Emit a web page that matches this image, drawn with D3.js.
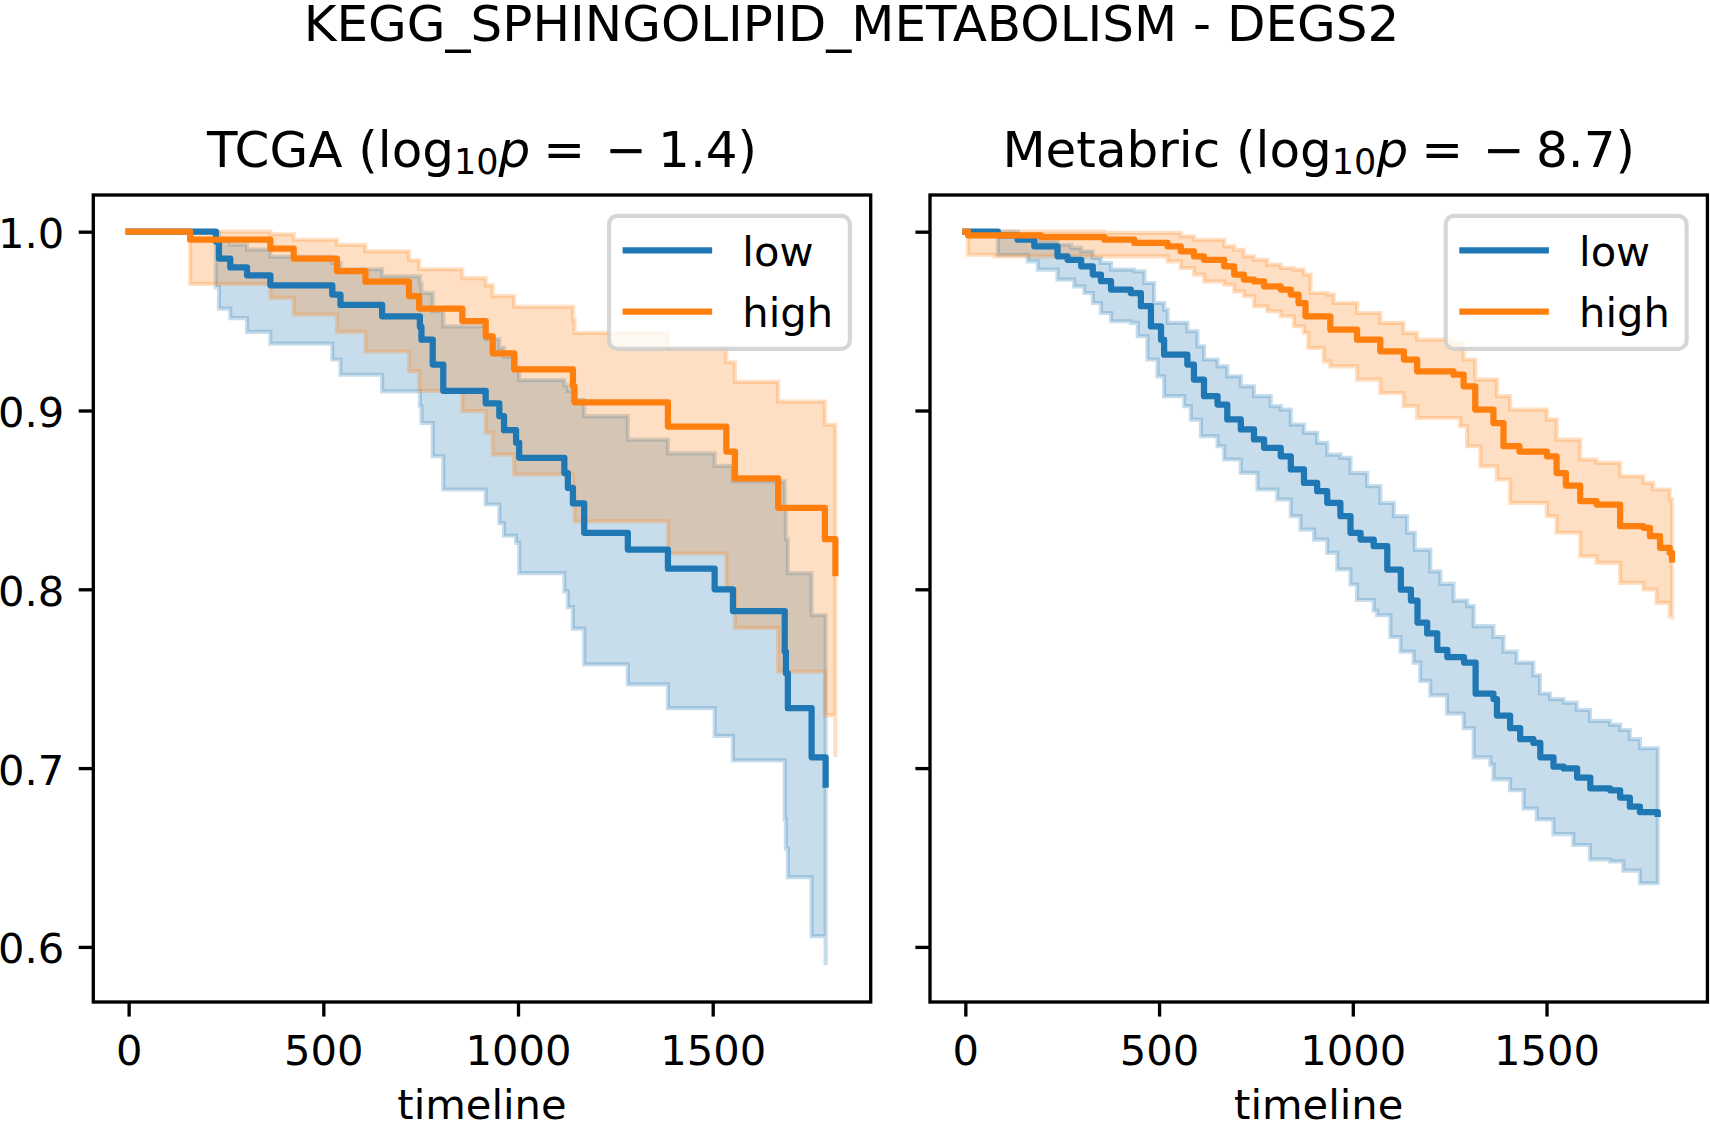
<!DOCTYPE html>
<html>
<head>
<meta charset="utf-8">
<script src="https://cdn.jsdelivr.net/npm/d3@7"></script>
<style>
  body { margin: 0; background: #fff; }
  svg text { font-family: "DejaVu Sans", sans-serif; fill: #000; }
</style>
</head>
<body>
<svg></svg>
<script>
// размеры картинки
const width = 1710;
const height = 1121;

// группы и оси
const groups = ["low", "high"];
const groupColors = ["#1f77b4", "#ff7f0e"];
const xTicks = [0, 500, 1000, 1500];
const yTicks = [0.6, 0.7, 0.8, 0.9, 1.0];
const panelNames = ["TCGA", "Metabric"];
const panelLogP = ["1.4", "8.7"];

// TCGA, группа low: [время, значение]
const tcgaLowSurv = [[0,1],[224,0.9945],[232,0.985],[261,0.980],[304,0.9756],[364,0.970],[523,0.9648],[544,0.959],[651,0.9527],[748,0.9467],[752,0.9396],[781,0.9257],[808,0.911],[917,0.904],[952,0.8968],[964,0.889],[995,0.882],[1003,0.8735],[1119,0.865],[1128,0.8567],[1141,0.848],[1170,0.8316],[1282,0.8222],[1385,0.8115],[1505,0.800],[1552,0.7878],[1685,0.765],[1688,0.753],[1693,0.7335],[1754,0.706],[1790,0.6907]];
const tcgaLowLower = [[0,1],[224,0.969],[232,0.957],[261,0.9517],[304,0.944],[364,0.9374],[523,0.9285],[544,0.920],[651,0.9107],[748,0.9024],[752,0.893],[781,0.8744],[808,0.8558],[917,0.8474],[952,0.837],[964,0.830],[995,0.826],[1003,0.809],[1119,0.7988],[1128,0.790],[1141,0.778],[1170,0.758],[1282,0.7468],[1385,0.7335],[1505,0.718],[1552,0.7043],[1685,0.6713],[1688,0.655],[1693,0.639],[1754,0.606],[1790,0.5897]];
const tcgaLowUpper = [[0,1],[224,0.9995],[232,0.995],[261,0.9927],[304,0.990],[364,0.986],[523,0.9825],[544,0.979],[651,0.975],[748,0.971],[752,0.9657],[781,0.9555],[808,0.947],[917,0.940],[952,0.935],[964,0.930],[995,0.924],[1003,0.917],[1119,0.914],[1128,0.911],[1141,0.906],[1170,0.8968],[1282,0.8837],[1385,0.876],[1505,0.869],[1552,0.8604],[1685,0.845],[1688,0.828],[1693,0.809],[1754,0.7855],[1790,0.77]];

// TCGA, группа high
const tcgaHighSurv = [[0,1],[158,0.9955],[364,0.9905],[424,0.985],[535,0.978],[608,0.972],[720,0.964],[746,0.957],[857,0.950],[917,0.9415],[935,0.932],[990,0.923],[1141,0.9135],[1145,0.9046],[1385,0.891],[1535,0.877],[1557,0.862],[1668,0.8456],[1788,0.828],[1815,0.809]];
const tcgaHighLower = [[0,1],[158,0.9708],[364,0.963],[424,0.9536],[535,0.944],[608,0.933],[720,0.922],[746,0.911],[857,0.8996],[917,0.8875],[935,0.8753],[990,0.8642],[1141,0.851],[1145,0.838],[1385,0.820],[1535,0.800],[1557,0.7784],[1668,0.754],[1788,0.7295],[1815,0.706]];
const tcgaHighUpper = [[0,1],[158,1.0],[364,0.9985],[424,0.9955],[535,0.9927],[608,0.989],[720,0.984],[746,0.979],[857,0.974],[917,0.970],[935,0.964],[990,0.958],[1141,0.951],[1145,0.9434],[1385,0.935],[1535,0.927],[1557,0.916],[1668,0.905],[1788,0.892],[1815,0.88]];

// Metabric, группа low
const metabricLowSurv = [[0,1],[84,0.998],[135,0.9955],[178,0.9918],[238,0.9862],[264,0.9843],[299,0.9806],[329,0.976],[350,0.9723],[376,0.9676],[427,0.9657],[453,0.9583],[479,0.947],[505,0.9396],[513,0.9312],[573,0.9257],[590,0.9173],[616,0.908],[651,0.9033],[676,0.895],[711,0.8894],[745,0.8838],[771,0.8791],[814,0.8744],[840,0.867],[874,0.8595],[908,0.8549],[934,0.8484],[968,0.8409],[994,0.8316],[1020,0.8278],[1054,0.8241],[1089,0.811],[1124,0.7998],[1150,0.7937],[1167,0.7814],[1192,0.7753],[1218,0.7661],[1244,0.762],[1287,0.759],[1317,0.7416],[1363,0.7386],[1372,0.7294],[1406,0.7223],[1432,0.7162],[1466,0.7141],[1484,0.706],[1518,0.7008],[1544,0.6998],[1579,0.6947],[1613,0.6887],[1664,0.6876],[1690,0.6835],[1715,0.6784],[1741,0.6754],[1787,0.6744]];
const metabricLowLower = [[0,1],[84,0.9871],[161,0.9834],[187,0.9788],[238,0.9732],[281,0.9694],[307,0.9657],[329,0.9601],[350,0.9545],[376,0.9499],[427,0.949],[445,0.9415],[470,0.9285],[496,0.9191],[513,0.908],[565,0.9024],[582,0.8949],[608,0.8856],[651,0.88],[668,0.8726],[711,0.8651],[754,0.8558],[805,0.8502],[840,0.8409],[865,0.8334],[900,0.8278],[934,0.8204],[960,0.8111],[994,0.8027],[1011,0.794],[1054,0.788],[1063,0.7855],[1097,0.7733],[1123,0.7651],[1157,0.759],[1174,0.7488],[1200,0.7407],[1243,0.7305],[1286,0.7223],[1312,0.706],[1355,0.7019],[1363,0.6937],[1406,0.6876],[1441,0.6774],[1475,0.6713],[1518,0.6631],[1569,0.657],[1612,0.6489],[1664,0.6478],[1698,0.6427],[1741,0.6356],[1787,0.6346]];
const metabricLowUpper = [[0,1],[84,1.0],[135,0.9983],[195,0.9946],[238,0.9927],[273,0.9909],[299,0.989],[329,0.9853],[350,0.9825],[376,0.9788],[436,0.9778],[462,0.9713],[487,0.9601],[513,0.9564],[522,0.949],[573,0.9443],[599,0.9359],[616,0.9285],[651,0.9247],[676,0.9191],[711,0.9135],[745,0.908],[788,0.9024],[814,0.9005],[840,0.8921],[874,0.8875],[908,0.8819],[934,0.8753],[968,0.8735],[994,0.8651],[1037,0.8577],[1071,0.8483],[1106,0.8409],[1140,0.8316],[1160,0.822],[1200,0.810],[1226,0.803],[1260,0.7937],[1295,0.7906],[1312,0.7794],[1363,0.7733],[1389,0.7651],[1423,0.759],[1466,0.7519],[1483,0.7417],[1509,0.7386],[1544,0.7366],[1578,0.7325],[1612,0.7264],[1664,0.7243],[1690,0.7213],[1715,0.7162],[1741,0.7111],[1787,0.7111]];

// Metabric, группа high
const metabricHighSurv = [[0,1],[7,0.998],[195,0.997],[359,0.9955],[436,0.9937],[522,0.9918],[556,0.989],[590,0.9862],[616,0.9843],[668,0.9806],[694,0.976],[719,0.9732],[745,0.9722],[771,0.9694],[814,0.9676],[840,0.9648],[860,0.960],[878,0.9527],[942,0.9452],[1011,0.9396],[1071,0.9331],[1132,0.9285],[1166,0.9219],[1260,0.920],[1286,0.9135],[1316,0.9005],[1363,0.893],[1389,0.880],[1430,0.877],[1501,0.8744],[1526,0.865],[1550,0.858],[1587,0.8493],[1629,0.8474],[1690,0.8353],[1750,0.8344],[1767,0.8297],[1793,0.8232],[1818,0.8204],[1824,0.8167]];
const metabricHighLower = [[0,1],[7,0.9871],[75,0.9862],[522,0.9834],[556,0.9797],[590,0.976],[616,0.9722],[668,0.9704],[694,0.9666],[719,0.9639],[745,0.9583],[779,0.9555],[814,0.9527],[848,0.9471],[874,0.9434],[885,0.935],[925,0.9275],[942,0.9247],[1011,0.9173],[1071,0.9098],[1131,0.9024],[1166,0.8958],[1277,0.8912],[1295,0.88],[1329,0.8688],[1372,0.8614],[1406,0.8483],[1501,0.8409],[1526,0.8316],[1587,0.8185],[1629,0.8148],[1690,0.8036],[1750,0.7999],[1784,0.7924],[1818,0.785],[1824,0.7831]];
const metabricHighUpper = [[0,1],[359,0.9993],[556,0.9974],[590,0.9955],[668,0.9918],[694,0.9899],[719,0.9862],[745,0.9843],[779,0.9816],[814,0.9797],[848,0.9788],[874,0.976],[891,0.9657],[934,0.9648],[951,0.9601],[1011,0.9545],[1071,0.949],[1131,0.9434],[1166,0.9396],[1260,0.9378],[1286,0.9285],[1316,0.9173],[1372,0.908],[1406,0.9005],[1501,0.8949],[1526,0.8837],[1587,0.8726],[1629,0.8707],[1690,0.8632],[1750,0.8595],[1775,0.8558],[1818,0.8502],[1824,0.8502]];

const panels = [
    [ {surv: tcgaLowSurv, lower: tcgaLowLower, upper: tcgaLowUpper},
      {surv: tcgaHighSurv, lower: tcgaHighLower, upper: tcgaHighUpper} ],
    [ {surv: metabricLowSurv, lower: metabricLowLower, upper: metabricLowUpper},
      {surv: metabricHighSurv, lower: metabricHighLower, upper: metabricHighUpper} ]
];

// расположение осей (в пикселях), 300 dpi
const axLeft = [93.3, 930];
const axWidth = 777.4;
const axTop = 195;
const axBottom = 1002;
const pt = 300 / 72;
const fs = 10 * pt;      // обычный шрифт
const fsTitle = 12 * pt; // заголовки

let svg = d3.select("svg")
    .attr("width", width)
    .attr("height", height);

// значение ступенчатой функции в момент t
function stepAt(arr, t) {
    let v = arr[0][1];
    for (const d of arr) {
        if (d[0] <= t) v = d[1];
        else break;
    }
    return v;
}

function bandRows(lower, upper) {
    const times = Array.from(new Set(lower.map(d => d[0]).concat(upper.map(d => d[0])))).sort((a, b) => a - b);
    return times.map(t => ({t: t, lo: stepAt(lower, t), hi: stepAt(upper, t)}));
}

// общая шкала y с полями 5%, как в matplotlib
let yMin = d3.min(panels.flat(), c => d3.min(c.lower, d => d[1]));
let yMax = 1.0;
let yPad = (yMax - yMin) * 0.05;
const y = d3.scaleLinear()
    .domain([yMin - yPad, yMax + yPad])
    .range([axBottom, axTop]);

// общий заголовок
svg.append("text")
    .attr("x", 851.5)
    .attr("y", 41)
    .attr("text-anchor", "middle")
    .style("font-size", fsTitle + "px")
    .text("KEGG_SPHINGOLIPID_METABOLISM - DEGS2");

function drawPanel(i) {
    const curves = panels[i];
    const left = axLeft[i];
    const right = left + axWidth;
    const tMax = d3.max(curves, c => d3.max(c.surv.concat(c.lower, c.upper), d => d[0]));
    const x = d3.scaleLinear()
        .domain([-0.05 * tMax, 1.05 * tMax])
        .range([left, right]);

    let g = svg.append("g");

    // доверительные интервалы
    const area = d3.area()
        .curve(d3.curveStepAfter)
        .x(d => x(d.t))
        .y0(d => y(d.lo))
        .y1(d => y(d.hi));
    curves.forEach((c, k) => {
        g.append("path")
            .attr("d", area(bandRows(c.lower, c.upper)))
            .style("fill", groupColors[k])
            .style("fill-opacity", 0.25)
            .style("stroke", groupColors[k])
            .style("stroke-opacity", 0.25)
            .style("stroke-width", pt);
    });

    // кривые выживаемости
    const line = d3.line()
        .curve(d3.curveStepAfter)
        .x(d => x(d[0]))
        .y(d => y(d[1]));
    curves.forEach((c, k) => {
        g.append("path")
            .attr("d", line(c.surv))
            .style("fill", "none")
            .style("stroke", groupColors[k])
            .style("stroke-width", 1.5 * pt)
            .style("stroke-linecap", "square")
            .style("stroke-linejoin", "round");
    });

    // оси
    let xAxis = g.append("g")
        .attr("transform", `translate(0, ${axBottom})`)
        .call(d3.axisBottom(x).tickValues(xTicks).tickFormat(d3.format("d"))
            .tickSize(3.5 * pt).tickPadding(3.5 * pt));
    let yAxis = g.append("g")
        .attr("transform", `translate(${left}, 0)`)
        .call(d3.axisLeft(y).tickValues(yTicks).tickFormat(i == 0 ? d3.format(".1f") : () => "")
            .tickSize(3.5 * pt).tickPadding(3.5 * pt));
    [xAxis, yAxis].forEach(a => {
        a.select(".domain").remove();
        a.attr("font-family", null).attr("font-size", null);
        a.selectAll("line").style("stroke", "#000").style("stroke-width", 0.8 * pt);
        a.selectAll("text").style("font-size", fs + "px");
    });
    xAxis.selectAll("text").attr("dy", 34);
    yAxis.selectAll("text").attr("dy", 16);

    // рамка
    g.append("rect")
        .attr("x", left).attr("y", axTop)
        .attr("width", axWidth).attr("height", axBottom - axTop)
        .style("fill", "none")
        .style("stroke", "#000")
        .style("stroke-width", 0.8 * pt);

    // подпись оси x
    g.append("text")
        .attr("x", (left + right) / 2)
        .attr("y", 1119)
        .attr("text-anchor", "middle")
        .style("font-size", fs + "px")
        .text("timeline");

    // заголовок панели: имя (log10 p = -x)
    let title = g.append("text")
        .attr("x", (left + right) / 2)
        .attr("y", 167)
        .attr("text-anchor", "middle")
        .style("font-size", fsTitle + "px");
    title.append("tspan").text(panelNames[i] + " (log");
    title.append("tspan").attr("dy", 6.6).style("font-size", (fsTitle * 0.7) + "px").text("10");
    title.append("tspan").attr("dy", -6.6).style("font-style", "italic").text("p");
    title.append("tspan").attr("dx", 13).text("=");
    title.append("tspan").attr("dx", 20).text("\u2212");
    title.append("tspan").attr("dx", 11).text(panelLogP[i] + ")");

    // легенда
    let legend = g.append("g");
    let box = legend.append("rect");
    let texts = [];
    groups.forEach((name, k) => {
        texts.push(legend.append("text")
            .style("font-size", fs + "px")
            .text(name));
    });
    const textW = d3.max(texts, t => t.node().getComputedTextLength());
    const pad = 0.4 * fs;
    const handleLen = 2 * fs;
    const textPad = 0.8 * fs;
    const boxW = pad + handleLen + textPad + textW + pad;
    const boxH = 133;
    const bx = right - 0.5 * fs - boxW;
    const by = axTop + 0.5 * fs;
    box.attr("x", bx).attr("y", by)
        .attr("width", boxW).attr("height", boxH)
        .attr("rx", 0.2 * fs).attr("ry", 0.2 * fs)
        .style("fill", "#fff").style("fill-opacity", 0.8)
        .style("stroke", "#cccccc").style("stroke-opacity", 0.8)
        .style("stroke-width", pt);
    groups.forEach((name, k) => {
        const ly = by + 34.5 + k * 61.4;
        legend.append("line")
            .attr("x1", bx + pad).attr("x2", bx + pad + handleLen)
            .attr("y1", ly).attr("y2", ly)
            .style("stroke", groupColors[k])
            .style("stroke-width", 1.5 * pt)
            .style("stroke-linecap", "square");
        texts[k].attr("x", bx + pad + handleLen + textPad).attr("y", ly + 15.7);
    });
}

drawPanel(0);
drawPanel(1);
</script>
</body>
</html>
